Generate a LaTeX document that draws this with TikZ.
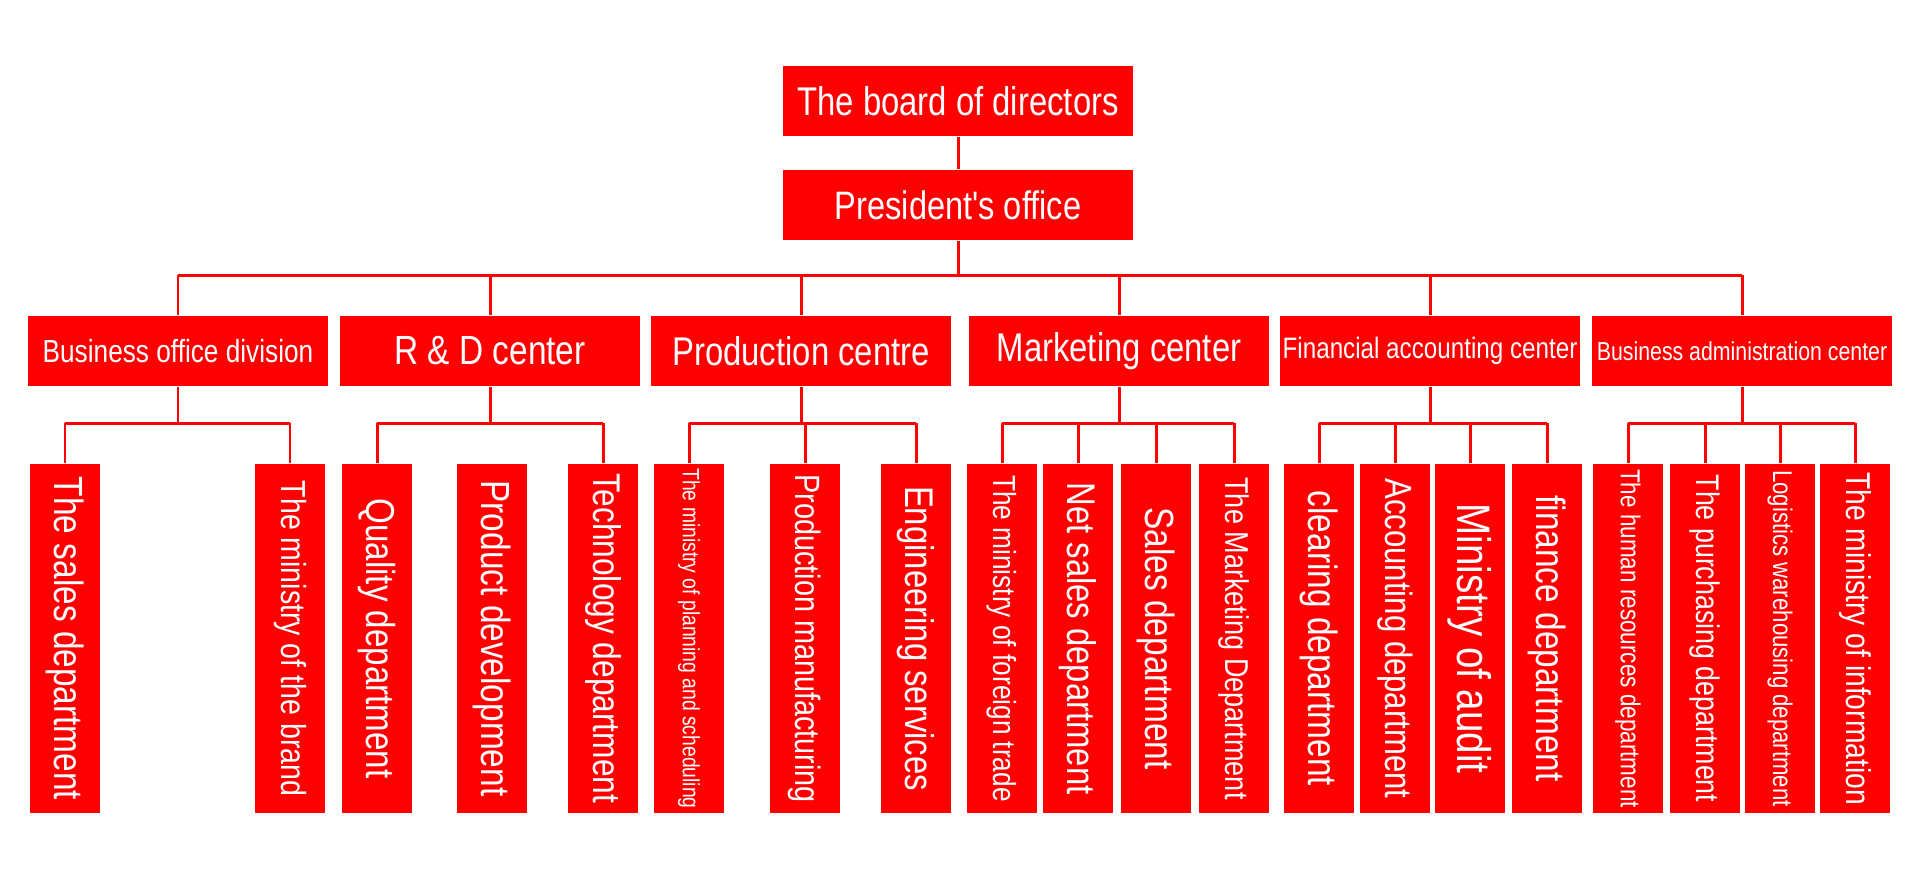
\documentclass[tikz,border=0pt]{standalone}
\usepackage{fontspec}
\newfontfamily\orgfont[FakeStretch=0.82]{Liberation Sans}
\usetikzlibrary{calc}

\begin{document}
\begin{tikzpicture}[orgbox/.style={fill=red, text=white, inner sep=0pt, font=\orgfont},
        topbox/.style={orgbox, minimum width=3.5cm, minimum height=0.7cm},
        centrebox/.style={orgbox, minimum width=3cm, minimum height=0.7cm},
        deptbox/.style={orgbox, minimum width=0.7cm, minimum height=3.49cm},
        fs/.style={font=\orgfont\fontsize{#1}{#1}\selectfont},
        link/.style={red, line width=0.85pt}]
        \useasboundingbox (0,0) rectangle (19.2,-8.88);

        \node[topbox, fs=11.4pt] (board) at (9.58,-1.01) {The board of directors};
        \node[topbox, fs=11.3pt] (pres) at (9.58,-2.05) {President's office};
        \coordinate (bus1) at (9.58,-2.75);
        \coordinate (bus2) at (0,-4.23);

        % centres
        \node[centrebox, fs=9.1pt] (bizoff) at (1.78,-3.51) {Business office division};
        \node[centrebox, fs=11.6pt] (rnd) at (4.90,-3.51) {R \& D center};
        \node[centrebox, fs=11.4pt] (prod) at (8.01,-3.51) {Production centre};
        \node[centrebox, fs=11.4pt] (market) at (11.19,-3.51) {Marketing center};
        \node[centrebox, fs=8.4pt] (fin) at (14.30,-3.51) {Financial accounting center};
        \node[centrebox, fs=7.4pt] (bizadm) at (17.42,-3.51) {Business administration center};

        % departments
        \node[deptbox, fs=11.6pt] (sales) at (0.65,-6.385) {\rotatebox{-90}{The sales department}};
        \node[deptbox, fs=9.9pt] (brand) at (2.90,-6.385) {\rotatebox{-90}{The ministry of the brand}};

        \node[deptbox, fs=11.5pt] (quality) at (3.77,-6.385) {\rotatebox{-90}{Quality department}};
        \node[deptbox, fs=11.6pt] (product) at (4.92,-6.385) {\rotatebox{-90}{Product development}};
        \node[deptbox, fs=11pt] (tech) at (6.03,-6.385) {\rotatebox{-90}{Technology department}};

        \node[deptbox, fs=6.7pt] (planning) at (6.89,-6.385) {\rotatebox{-90}{The ministry of planning and scheduling}};
        \node[deptbox, fs=10pt] (manuf) at (8.05,-6.385) {\rotatebox{-90}{Production manufacturing}};
        \node[deptbox, fs=11.4pt] (engin) at (9.16,-6.385) {\rotatebox{-90}{Engineering services}};

        \node[deptbox, fs=9.1pt] (foreign) at (10.02,-6.385) {\rotatebox{-90}{The ministry of foreign trade}};
        \node[deptbox, fs=11.4pt] (netsales) at (10.78,-6.385) {\rotatebox{-90}{Net sales department}};
        \node[deptbox, fs=11.6pt] (salesdep) at (11.56,-6.385) {\rotatebox{-90}{Sales department}};
        \node[deptbox, fs=9.4pt] (mkt) at (12.34,-6.385) {\rotatebox{-90}{The Marketing Department}};

        \node[deptbox, fs=11.6pt] (clearing) at (13.19,-6.385) {\rotatebox{-90}{clearing department}};
        \node[deptbox, fs=10.8pt] (accounting) at (13.95,-6.385) {\rotatebox{-90}{Accounting department}};
        \node[deptbox, fs=13.4pt] (audit) at (14.70,-6.385) {\rotatebox{-90}{Ministry of audit}};
        \node[deptbox, fs=11.6pt] (finance) at (15.47,-6.385) {\rotatebox{-90}{finance department}};

        \node[deptbox, fs=7.8pt] (hr) at (16.28,-6.385) {\rotatebox{-90}{The human resources department}};
        \node[deptbox, fs=9.3pt] (purchasing) at (17.05,-6.385) {\rotatebox{-90}{The purchasing department}};
        \node[deptbox, fs=7.7pt] (logistics) at (17.80,-6.385) {\rotatebox{-90}{Logistics warehousing department}};
        \node[deptbox, fs=9.8pt] (info) at (18.55,-6.385) {\rotatebox{-90}{The ministry of information}};

        % top links
        \draw[link] (board) -- (pres);
        \draw[link] (pres.south) -- (bus1);
        \draw[link] (bizoff.north |- bus1) -- (bizadm.north |- bus1);
        \draw[link] (bizoff.north |- bus1) -- (bizoff.north);
        \draw[link] (rnd.north |- bus1) -- (rnd.north);
        \draw[link] (prod.north |- bus1) -- (prod.north);
        \draw[link] (market.north |- bus1) -- (market.north);
        \draw[link] (fin.north |- bus1) -- (fin.north);
        \draw[link] (bizadm.north |- bus1) -- (bizadm.north);

        % business office
        \draw[link] (bizoff.south) -- (bizoff.south |- bus2);
        \draw[link] (sales.north |- bus2) -- (brand.north |- bus2);
        \draw[link] (sales.north |- bus2) -- (sales.north);
        \draw[link] (brand.north |- bus2) -- (brand.north);

        % r & d
        \draw[link] (rnd.south) -- (rnd.south |- bus2);
        \draw[link] (quality.north |- bus2) -- (tech.north |- bus2);
        \draw[link] (quality.north |- bus2) -- (quality.north);
        \draw[link] (tech.north |- bus2) -- (tech.north);

        % production
        \draw[link] (prod.south) -- (prod.south |- bus2);
        \draw[link] (planning.north |- bus2) -- (engin.north |- bus2);
        \draw[link] (planning.north |- bus2) -- (planning.north);
        \draw[link] (manuf.north |- bus2) -- (manuf.north);
        \draw[link] (engin.north |- bus2) -- (engin.north);

        % marketing
        \draw[link] (market.south) -- (market.south |- bus2);
        \draw[link] (foreign.north |- bus2) -- (mkt.north |- bus2);
        \draw[link] (foreign.north |- bus2) -- (foreign.north);
        \draw[link] (netsales.north |- bus2) -- (netsales.north);
        \draw[link] (salesdep.north |- bus2) -- (salesdep.north);
        \draw[link] (mkt.north |- bus2) -- (mkt.north);

        % financial
        \draw[link] (fin.south) -- (fin.south |- bus2);
        \draw[link] (clearing.north |- bus2) -- (finance.north |- bus2);
        \draw[link] (clearing.north |- bus2) -- (clearing.north);
        \draw[link] (accounting.north |- bus2) -- (accounting.north);
        \draw[link] (audit.north |- bus2) -- (audit.north);
        \draw[link] (finance.north |- bus2) -- (finance.north);

        % administration
        \draw[link] (bizadm.south) -- (bizadm.south |- bus2);
        \draw[link] (hr.north |- bus2) -- (info.north |- bus2);
        \draw[link] (hr.north |- bus2) -- (hr.north);
        \draw[link] (purchasing.north |- bus2) -- (purchasing.north);
        \draw[link] (logistics.north |- bus2) -- (logistics.north);
        \draw[link] (info.north |- bus2) -- (info.north);
    \end{tikzpicture}
\end{document}
